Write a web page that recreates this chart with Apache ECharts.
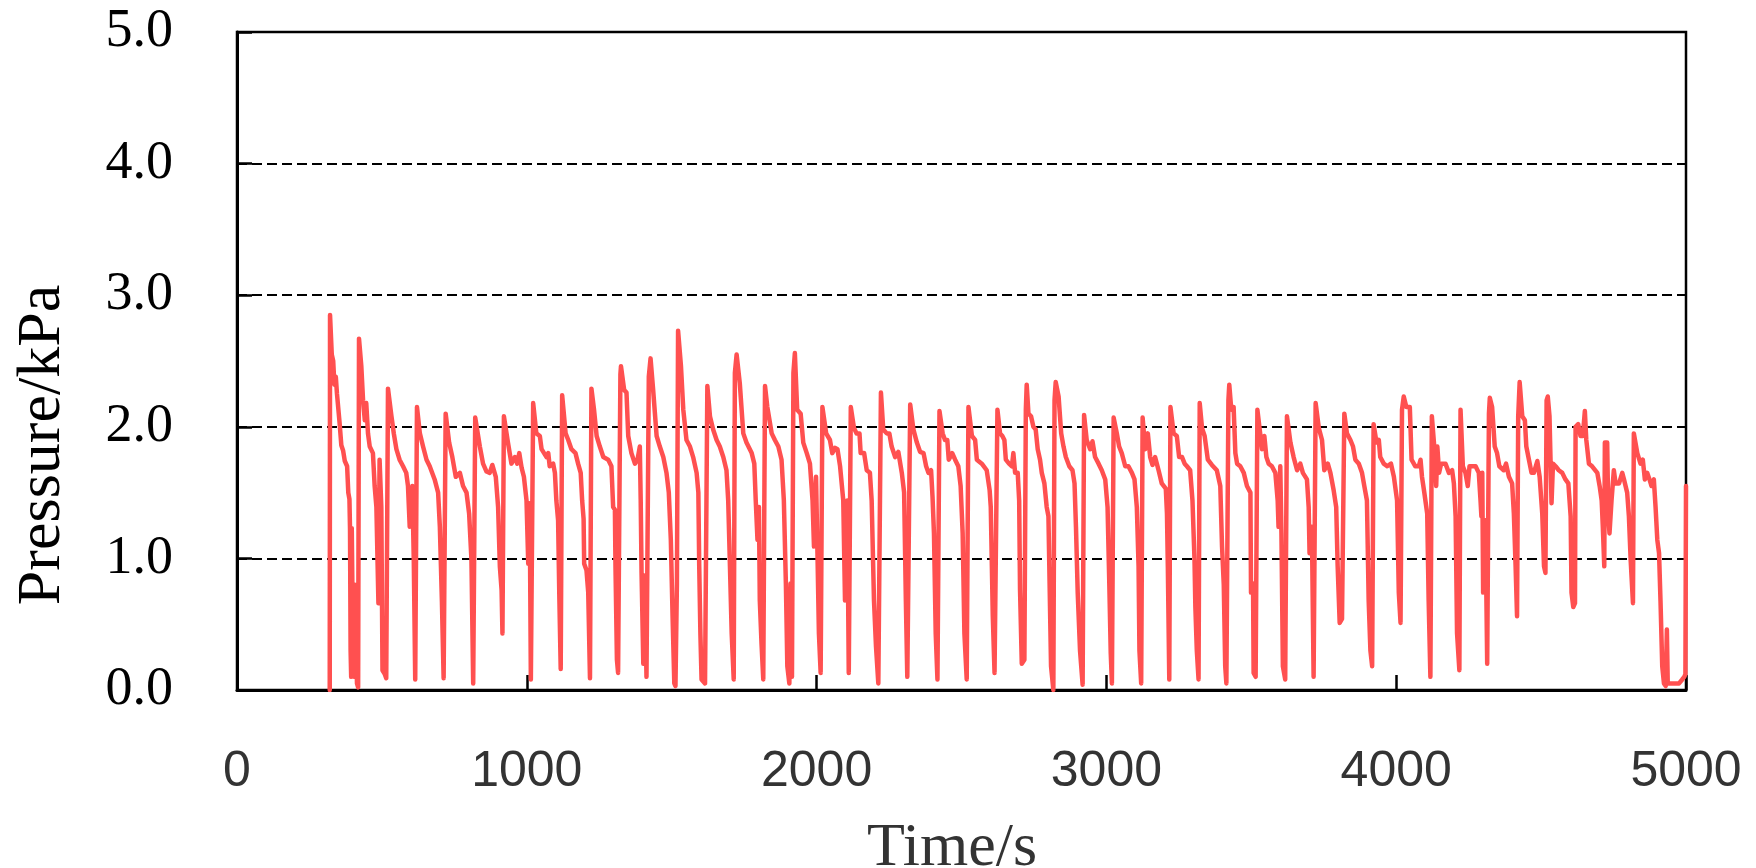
<!DOCTYPE html>
<html>
<head>
<meta charset="utf-8">
<script src="https://cdn.jsdelivr.net/npm/echarts@6/dist/echarts.min.js"></script>
<style>
html,body{margin:0;padding:0;background:#fff;}
#chart{width:1756px;height:868px;}
</style>
</head>
<body>
<div id="chart"></div>
<script>
// Time (s)
const timeS = [
320,321,327,332,336,341,345,349,354,360,366,372,380,384,388,390,392,394,396,399,401,404,407,410,414,418,
421,429,435,441,446,452,458,469,475,481,488,492,498,502,510,515,
521,533,541,550,561,573,584,590,596,605,610,615,
621,631,642,654,665,682,694,700,707,713,
720,732,743,755,769,780,792,801,809,815,
822,838,849,861,872,881,893,901,907,913,916,
921,935,947,959,967,974,982,990,999,1005,1010,1014,
1022,1033,1045,1051,1068,1074,1079,1091,1097,1102,1108,1112,1117,
1122,1134,1143,1154,1168,1177,1186,1191,1196,1198,1206,1212,1218,
1223,1232,1241,1252,1264,1281,1292,1298,1304,1306,1311,1315,
1323,1325,1336,1344,1350,1361,1373,1382,1390,1393,1396,1402,1407,1413,
1421,1427,1436,1448,1459,1471,1482,1490,1497,1503,1509,1513,1518,
1522,1532,1540,1551,1563,1574,1586,1592,1595,1599,1603,1615,
1623,1632,1643,1655,1666,1678,1689,1695,1701,1707,1714,
1718,1724,1735,1747,1758,1776,1785,1790,1796,1801,1804,1810,1816,
1822,1830,1845,1856,1868,1879,1887,1894,1899,1906,1910,1915,
1920,1925,1933,1945,1954,1966,1977,1986,1991,1998,2003,2008,2014,
2020,2033,2046,2054,2064,2072,2081,2092,2098,2106,2111,
2118,2129,2138,2148,2152,2164,2173,2184,2190,2198,2205,2213,
2222,2230,2242,2251,2259,2271,2282,2294,2302,2308,2313,
2323,2334,2346,2357,2369,2378,2386,2395,2400,2405,2411,2417,
2424,2435,2443,2451,2456,2468,2478,2489,2497,2504,2510,2518,
2524,2536,2547,2553,2570,2587,2597,2601,2608,2614,
2624,2633,2641,2648,2653,2664,2674,2679,2685,2694,2699,2702,2708,2717,
2722,2725,2731,2740,2748,2756,2763,2771,2777,2786,2794,2800,2804,2809,2817,
2821,2825,2835,2844,2852,2860,2872,2883,2890,2895,2901,2909,2918,
2923,2932,2944,2952,2961,2973,2984,2996,3004,3010,3015,3019,
3025,3036,3044,3053,3065,3076,3088,3097,3105,3111,3114,3120,
3125,3134,3143,3151,3159,3168,3180,3191,3205,3209,3212,3217,
3221,3232,3243,3251,3261,3270,3278,3289,3297,3304,3307,3312,3318,
3322,3330,3339,3350,3364,3381,3393,3399,3405,3410,3414,
3421,3424,3431,3439,3445,3451,3462,3474,3485,3497,3499,3506,3508,3515,
3521,3529,3537,3545,3552,3560,3571,3583,3591,3594,3600,3604,3609,3617,
3623,3635,3646,3658,3669,3678,3692,3698,3701,3709,3715,
3722,3733,3744,3752,3764,3773,3784,3793,3798,3805,3813,
3821,3830,3842,3851,3859,3871,3882,3890,3899,3905,3911,3917,
3922,3932,3940,3945,3957,3969,3982,3992,4003,4009,4015,
4020,4026,4035,4047,4053,4066,4078,4084,4089,4097,4107,4112,4118,
4123,4132,4138,4142,4148,4155,4170,4182,4193,4199,4205,4210,4218,
4222,4230,4239,4247,4253,4262,4274,4285,4291,4294,4297,4300,4308,4314,
4320,4323,4331,4340,4348,4356,4371,4379,4389,4400,4406,4412,4417,
4421,4426,4435,4444,4449,4458,4467,4475,4487,4495,4504,4510,4515,
4519,4523,4529,4536,4541,4550,4561,4573,4584,4594,4602,4605,4611,4617,
4619,4628,4636,4644,4651,4656,4665,4676,4694,4702,4709,4713,4718,
4720,4728,4732,4736,4743,4751,4757,4769,4780,4786,4797,4803,4809,4817,
4820,4824,4832,4843,4851,4858,4866,4874,4881,4889,4895,4901,4907,4912,4918,4924,4930,4934,4937,4947,4964,4976,4987,4994,4998,5000
];

// Pressure (kPa)
const pressureKPa = [
0,2.85,2.55,2.50,2.32,2.38,2.25,2.24,2.03,1.86,1.82,1.74,1.70,1.50,1.45,1.22,0.30,0.10,1.23,1.22,0.20,0.10,0.80,0.81,0.05,0.02,
2.67,2.46,2.20,2.05,2.18,1.95,1.85,1.80,1.55,1.39,0.66,1.75,1.39,0.15,0.12,0.09,
2.29,2.08,1.95,1.83,1.75,1.70,1.65,1.55,1.24,1.55,0.99,0.08,
2.15,1.95,1.85,1.75,1.70,1.60,1.50,1.24,0.68,0.09,
2.10,1.88,1.77,1.62,1.65,1.55,1.50,1.34,0.99,0.05,
2.07,1.85,1.72,1.66,1.65,1.71,1.62,1.39,0.94,0.76,0.43,
2.08,1.88,1.72,1.77,1.72,1.80,1.69,1.62,1.44,0.96,1.42,0.08,
2.18,1.95,1.93,1.83,1.77,1.80,1.70,1.72,1.65,1.44,1.29,0.74,0.16,
2.24,1.95,1.90,1.83,1.80,1.72,1.65,1.44,1.30,0.96,0.91,0.74,0.09,
2.29,2.13,1.93,1.85,1.77,1.75,1.70,1.39,1.37,0.94,0.23,0.13,
2.40,2.46,2.28,2.26,1.93,1.80,1.72,1.75,1.85,1.45,0.89,0.20,0.87,0.10,
2.38,2.52,2.28,1.93,1.85,1.77,1.65,1.50,1.14,0.56,0.05,0.03,0.81,
2.73,2.46,2.13,1.90,1.85,1.77,1.65,1.50,0.94,0.43,0.08,0.05,
2.31,2.08,1.98,1.90,1.85,1.77,1.67,1.44,0.94,0.43,0.08,
2.41,2.55,2.33,1.95,1.88,1.80,1.72,1.44,1.14,1.39,0.68,0.35,0.08,
2.31,2.15,1.95,1.90,1.85,1.75,1.44,0.81,0.18,0.05,0.81,0.10,
2.41,2.56,2.13,2.10,1.88,1.80,1.72,1.44,1.09,1.62,1.04,0.43,0.13,
2.15,1.95,1.90,1.80,1.84,1.83,1.70,1.44,0.68,1.44,0.13,
2.15,1.99,1.95,1.95,1.80,1.80,1.67,1.65,1.44,0.68,0.33,0.05,
2.26,1.98,1.95,1.95,1.85,1.77,1.81,1.65,1.50,0.68,0.10,
2.17,1.98,1.88,1.81,1.80,1.70,1.65,1.67,1.47,1.19,0.43,0.08,
2.12,1.95,1.90,1.90,1.75,1.80,1.75,1.70,1.55,1.19,0.43,0.08,
2.15,1.93,1.90,1.75,1.72,1.67,1.52,1.39,0.56,0.13,
2.13,1.95,1.93,1.90,1.75,1.72,1.70,1.80,1.65,1.65,1.44,0.76,0.20,0.23,
2.13,2.32,2.10,2.08,2.00,1.98,1.83,1.75,1.65,1.57,1.39,1.32,0.81,0.18,0.00,
2.20,2.34,2.23,1.95,1.85,1.77,1.70,1.67,1.57,1.24,0.74,0.30,0.04,
2.09,1.90,1.83,1.89,1.77,1.72,1.67,1.60,1.39,0.81,0.28,0.05,
2.07,1.95,1.85,1.80,1.70,1.70,1.65,1.60,1.39,0.94,0.30,0.05,
2.07,1.83,1.95,1.77,1.71,1.77,1.67,1.57,1.53,1.34,0.94,0.08,
2.15,1.95,1.93,1.77,1.77,1.72,1.70,1.67,1.44,0.99,0.63,0.30,0.08,
2.18,1.99,1.93,1.75,1.71,1.67,1.55,1.09,0.80,0.18,0.05,
2.20,2.32,2.13,2.15,1.80,1.72,1.70,1.65,1.55,1.50,0.74,0.81,0.13,0.10,
2.13,1.98,1.83,1.93,1.77,1.72,1.70,1.65,1.44,1.24,1.70,1.19,0.18,0.08,
2.08,1.88,1.77,1.67,1.72,1.65,1.60,1.39,1.04,1.24,0.10,
2.18,1.99,1.90,1.67,1.72,1.65,1.52,1.39,0.94,0.51,0.54,
2.10,1.95,1.90,1.85,1.75,1.72,1.65,1.55,1.44,0.68,0.30,0.18,
2.02,1.88,1.90,1.77,1.72,1.70,1.72,1.62,1.44,0.74,0.51,
2.13,2.23,2.15,2.15,1.75,1.70,1.70,1.75,1.62,1.50,1.34,0.68,0.10,
2.08,1.83,1.55,1.85,1.65,1.72,1.72,1.65,1.67,1.57,1.32,0.43,0.15,
2.13,1.70,1.65,1.55,1.70,1.70,1.70,1.65,1.44,1.32,1.65,0.74,1.29,0.20,
2.10,2.22,2.15,1.85,1.80,1.70,1.67,1.72,1.62,1.57,1.34,0.94,0.56,
2.08,2.34,2.08,2.05,1.85,1.75,1.65,1.65,1.74,1.62,1.34,0.94,0.89,
2.20,2.23,2.08,1.42,1.72,1.70,1.67,1.65,1.60,1.57,1.32,0.74,0.63,0.66,
2.00,2.02,1.93,1.93,2.12,1.90,1.72,1.70,1.65,1.55,1.44,1.24,0.94,
1.88,1.88,1.32,1.19,1.44,1.67,1.57,1.57,1.65,1.60,1.50,1.32,0.99,0.66,
1.95,1.95,1.80,1.72,1.75,1.60,1.65,1.60,1.55,1.60,1.39,1.14,1.04,0.68,0.18,0.05,0.03,0.46,0.05,0.05,0.05,0.05,0.08,0.10,0.12,1.55
];

// Axis tick labels
const xTicks = [0, 1000, 2000, 3000, 4000, 5000];
const yTicks = ['0.0', '1.0', '2.0', '3.0', '4.0', '5.0'];

const seriesData = timeS.map((t, i) => [t, pressureKPa[i]]);

const chart = echarts.init(document.getElementById('chart'), null, {renderer: 'canvas'});
chart.setOption({
  animation: false,
  backgroundColor: '#ffffff',
  grid: {
    left: 237, right: 70, top: 32, bottom: 178,
    show: true, borderColor: '#000', borderWidth: 2.5, backgroundColor: 'transparent'
  },
  xAxis: {
    type: 'value',
    min: xTicks[0], max: xTicks[xTicks.length - 1], interval: 1000,
    axisLine: {show: true, onZero: false, lineStyle: {color: '#000', width: 3}},
    axisTick: {show: true, inside: true, length: 15, lineStyle: {color: '#000', width: 2.5}},
    splitLine: {show: false},
    axisLabel: {
      margin: 57,
      fontFamily: 'Liberation Sans', fontSize: 50, color: '#333',
      formatter: v => String(v)
    }
  },
  yAxis: {
    type: 'value',
    min: 0, max: 5, interval: 1,
    axisLine: {show: true, lineStyle: {color: '#000', width: 3}},
    axisTick: {show: true, inside: true, length: 15, lineStyle: {color: '#000', width: 2.5}},
    splitLine: {show: true, lineStyle: {color: '#000', width: 2, type: [10, 5]}},
    axisLabel: {
      margin: 64,
      fontFamily: 'Liberation Serif', fontSize: 54, color: '#000',
      formatter: v => yTicks[Math.round(v)]
    }
  },
  graphic: [
    {
      type: 'text', x: 952, y: 849,
      style: {text: 'Time/s', font: '62px "Liberation Serif"', fill: '#333', align: 'center', verticalAlign: 'middle'}
    },
    {
      type: 'text', x: 43, y: 445, rotation: Math.PI / 2,
      style: {text: 'Pressure/kPa', font: '62px "Liberation Serif"', fill: '#000', align: 'center', verticalAlign: 'middle'}
    }
  ],
  series: [{
    type: 'line',
    data: seriesData,
    showSymbol: false,
    symbol: 'none',
    lineStyle: {color: '#FF5050', width: 4.5, join: 'round', cap: 'round'},
    itemStyle: {color: '#FF5050'},
    clip: true
  }]
});
</script>
</body>
</html>
